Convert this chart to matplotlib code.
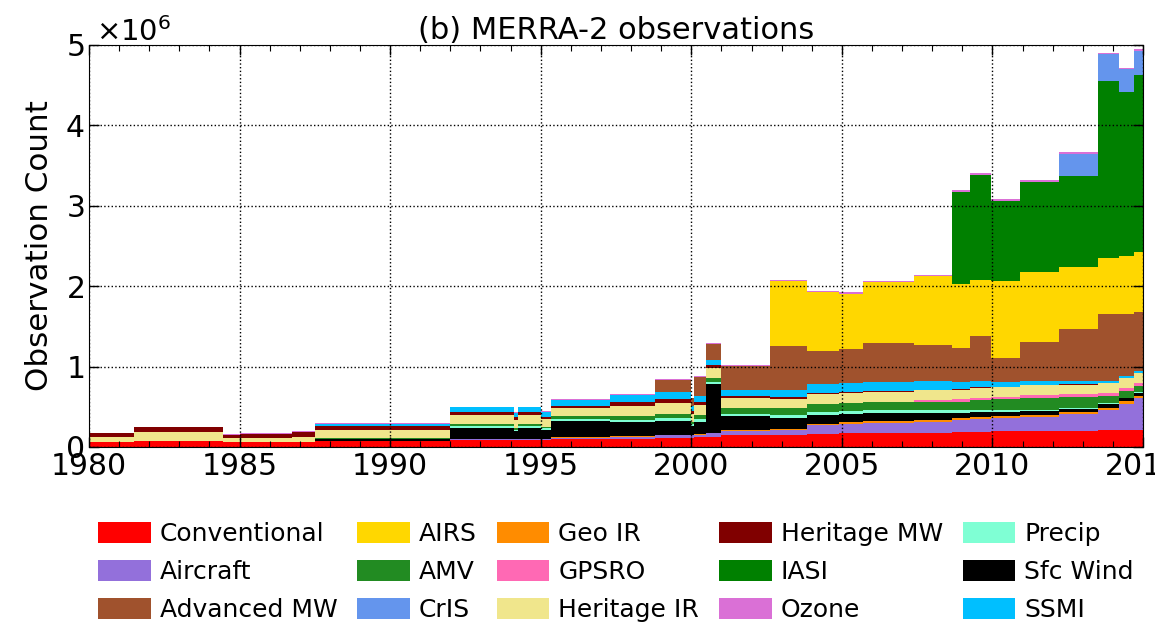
import numpy as np
import matplotlib.pyplot as plt
from matplotlib.ticker import MultipleLocator, ScalarFormatter
from matplotlib.transforms import Bbox

# segment start years (values hold until the next one), counts in thousands
years = [1980.0, 1981.5, 1984.45, 1985.0, 1986.75, 1987.5, 1992.0, 1994.1, 1994.25, 1995.0,
         1995.35, 1997.3, 1998.8, 2000.0, 2000.1, 2000.5, 2001.0, 2002.6, 2003.85, 2004.9,
         2005.7, 2007.4, 2008.65, 2009.25, 2009.95, 2010.9, 2012.2, 2013.5, 2014.2, 2014.7]

conventional = [65, 70, 65, 65, 65, 70, 90, 85, 90, 90, 100, 100, 110, 110, 120, 130, 150, 150, 165, 170,
                175, 180, 185, 190, 195, 200, 205, 210, 210, 210]
aircraft = [3, 3, 3, 3, 3, 5, 12, 12, 12, 12, 15, 30, 35, 35, 35, 40, 45, 60, 110, 120,
            125, 135, 150, 160, 165, 170, 200, 250, 330, 400]
geo_ir = [0, 0, 0, 0, 0, 0, 0, 0, 0, 0, 5, 10, 10, 10, 10, 10, 15, 15, 15, 15,
          20, 20, 20, 25, 25, 25, 25, 30, 30, 30]
sfc_wind = [0, 0, 0, 0, 0, 20, 140, 100, 140, 110, 200, 170, 170, 100, 150, 600, 170, 140, 110, 110,
            100, 90, 70, 60, 55, 50, 45, 40, 35, 30]
precip = [0, 0, 0, 0, 0, 10, 25, 20, 25, 20, 25, 30, 35, 25, 35, 30, 35, 35, 40, 35,
          35, 35, 30, 30, 25, 20, 15, 12, 10, 10]
amv = [0, 0, 0, 0, 0, 10, 25, 20, 25, 20, 35, 45, 50, 30, 50, 50, 70, 80, 95, 100,
       100, 100, 110, 120, 130, 150, 130, 90, 80, 80]
heritage_ir = [60, 110, 40, 50, 60, 100, 110, 100, 110, 95, 100, 130, 140, 100, 120, 120, 120, 120, 120, 120,
               120, 120, 120, 120, 120, 120, 120, 120, 120, 120]
gpsro = [0, 0, 0, 0, 0, 0, 0, 0, 0, 0, 0, 0, 0, 0, 0, 0, 0, 0, 0, 0,
         10, 25, 30, 30, 30, 35, 35, 40, 40, 40]
heritage_mw = [40, 60, 45, 45, 55, 45, 30, 30, 30, 30, 30, 45, 45, 35, 40, 40, 25, 20, 15, 12,
               10, 8, 8, 8, 5, 5, 5, 5, 5, 5]
ssmi = [0, 0, 0, 0, 0, 30, 60, 55, 60, 55, 80, 90, 90, 60, 80, 60, 80, 90, 110, 115,
        115, 110, 90, 80, 60, 45, 35, 25, 20, 20]
advanced_mw = [0, 0, 0, 0, 0, 0, 0, 0, 0, 0, 0, 0, 150, 100, 230, 200, 300, 550, 420, 420,
               480, 450, 420, 560, 300, 480, 650, 830, 770, 730]
airs = [0, 0, 0, 0, 0, 0, 0, 0, 0, 0, 0, 0, 0, 0, 0, 0, 0, 800, 730, 690,
        760, 850, 790, 700, 950, 880, 780, 700, 720, 750]
iasi = [0, 0, 0, 0, 0, 0, 0, 0, 0, 0, 0, 0, 0, 0, 0, 0, 0, 0, 0, 0,
        0, 0, 1150, 1300, 1000, 1120, 1120, 2200, 2050, 2200]
cris = [0, 0, 0, 0, 0, 0, 0, 0, 0, 0, 0, 0, 0, 0, 0, 0, 0, 0, 0, 0,
        0, 0, 0, 0, 0, 0, 280, 330, 280, 300]
ozone = [10, 10, 10, 10, 10, 10, 10, 10, 10, 10, 10, 10, 10, 10, 10, 10, 10, 15, 15, 15,
         15, 15, 20, 20, 20, 20, 20, 20, 20, 20]

# stacking order, bottom to top
layers = [
    ('Conventional', conventional, 'red'),
    ('Aircraft', aircraft, 'mediumpurple'),
    ('Geo IR', geo_ir, 'darkorange'),
    ('Sfc Wind', sfc_wind, 'black'),
    ('Precip', precip, 'aquamarine'),
    ('AMV', amv, 'forestgreen'),
    ('GPSRO', gpsro, 'hotpink'),
    ('Heritage IR', heritage_ir, 'khaki'),
    ('Heritage MW', heritage_mw, 'maroon'),
    ('SSMI', ssmi, 'deepskyblue'),
    ('Advanced MW', advanced_mw, 'sienna'),
    ('AIRS', airs, 'gold'),
    ('IASI', iasi, 'green'),
    ('CrIS', cris, 'cornflowerblue'),
    ('Ozone', ozone, 'orchid'),
]
legend_order = ['Conventional', 'Aircraft', 'Advanced MW', 'AIRS', 'AMV', 'CrIS',
                'Geo IR', 'GPSRO', 'Heritage IR', 'Heritage MW', 'IASI', 'Ozone',
                'Precip', 'Sfc Wind', 'SSMI']

x = np.array(years + [2015.0])

fig = plt.figure(figsize=(11.73, 6.23), dpi=100)
ax = fig.add_axes([89 / 1173, 1 - 447 / 623, (1143 - 89) / 1173, (447 - 45) / 623])

base = np.zeros(len(x))
handles = {}
for name, vals, col in layers:
    v = np.array(vals + [vals[-1]], dtype=float) * 1e3
    top = base + v
    h = ax.fill_between(x, base, top, step='post', color=col, linewidth=0, label=name)
    handles[name] = h
    base = top

ax.set_xlim(1980, 2015)
ax.set_ylim(0, 5e6)
ax.xaxis.set_major_locator(MultipleLocator(5))
ax.xaxis.set_minor_locator(MultipleLocator(1))
ax.yaxis.set_major_locator(MultipleLocator(1e6))
fmt = ScalarFormatter(useMathText=True)
fmt.set_powerlimits((0, 0))
ax.yaxis.set_major_formatter(fmt)
off = ax.yaxis.get_offset_text()
off.set_fontsize(21)
off.set_x(0.007)

ax.tick_params(which='both', direction='in', top=True, right=True, labelsize=21.5)
ax.tick_params(which='major', length=7, width=1)
ax.tick_params(which='minor', length=4, width=0.8)
ax.grid(True, which='major', color='black', linestyle=':', linewidth=1)
ax.set_axisbelow(False)

ax.set_title('(b) MERRA-2 observations', fontsize=22, pad=3)
ax.set_ylabel('Observation Count', fontsize=22.3, labelpad=8)

fig.legend([handles[n] for n in legend_order], legend_order, ncol=5, frameon=False,
           loc='upper center', bbox_to_anchor=(616 / 1173, 1 - 522 / 623),
           fontsize=18, handlelength=2.1, handleheight=0.92, handletextpad=0.36,
           columnspacing=0.8, labelspacing=0.55, borderaxespad=0, borderpad=0)

# the 2015 label runs off the right edge in the original
fig.canvas.draw()
for t in ax.xaxis.get_major_ticks():
    if abs(t.get_loc() - 2015) < 1e-6:
        t.label1.set_clip_box(Bbox.from_extents(0, 0, 1155, 623))
        t.label1.set_clip_on(True)

fig.savefig('out.png', dpi=100)
